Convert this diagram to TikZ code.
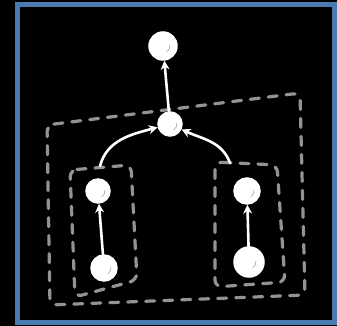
\documentclass[tikz,border=0pt]{standalone}
\usetikzlibrary{arrows.meta}
\definecolor{frameblue}{RGB}{74,122,176}
\begin{document}
\begin{tikzpicture}[x=1pt,y=1pt,
    ball/.style={circle,fill=white,draw=white,line width=1.5pt,inner sep=0pt},
    link/.style={white,line width=2.6pt,line cap=round,-{Stealth[length=9pt,width=9pt]}},
    group/.style={draw=gray!85,line width=3.2pt,dash pattern=on 9pt off 9pt,line cap=round,rounded corners=7pt}]
    % background and frame
    \fill[black] (0,0) rectangle (337,326);
    \draw[frameblue,line width=5pt] (17.5,3.5) rectangle (334.5,321);
    % the groups
    \draw[group] (47,201) -- (300,233) -- (305,31) -- (50,21) -- cycle;
    \draw[group] (70,156) -- (131,161) -- (137,46) -- (75,29) -- cycle;
    \draw[group] (215,164) -- (277,161) -- (285,44) -- (215,39) -- cycle;
    \coordinate (lgroup) at (100,160);
    \coordinate (rgroup) at (230,163);
    % the balls
    \node[ball,minimum size=28pt] (top) at (163,280) {};
    \node[ball,minimum size=24pt] (mid) at (170,202) {};
    \node[ball,minimum size=24pt] (lu) at (98,135) {};
    \node[ball,minimum size=26pt] (ll) at (104,58) {};
    \node[ball,minimum size=26pt] (ru) at (247,135) {};
    \node[ball,minimum size=30pt] (rl) at (249,64) {};
    \foreach \n in {top,mid,lu,ll,ru,rl}
        \draw[gray!70,line width=0.6pt] ([shift={(-60:7pt)}]\n.center) arc[start angle=-60,end angle=10,radius=7pt];
    % arrows
    \draw[link] (mid) -- (top);
    \draw[link] (lgroup) to[out=75,in=195] (mid);
    \draw[link] (rgroup) to[out=110,in=-25] (mid);
    \draw[link] (ll) -- (lu);
    \draw[link] (rl) -- (ru);
\end{tikzpicture}
\end{document}
